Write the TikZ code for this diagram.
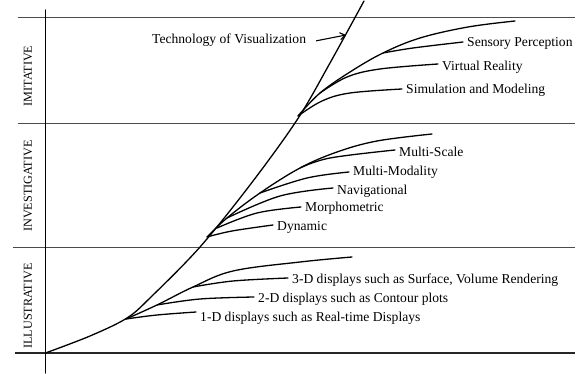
\documentclass[tikz,border=0pt]{standalone}
\usepackage{fontspec}
\setmainfont{Liberation Serif}
\usetikzlibrary{arrows.meta}
\begin{document}
\begin{tikzpicture}[x=1pt,y=-1pt,
  grid/.style={draw=black!70,line width=0.9pt},
  base/.style={draw=black!85,line width=1.4pt},
  curve/.style={draw=black,line width=1.3pt,line cap=round},
  lbl/.style={anchor=west,inner xsep=4pt,inner ysep=0pt,font=\fontsize{13.6}{15}\selectfont},
  cat/.style={rotate=90,inner sep=0pt,font=\fontsize{12.2}{14}\selectfont}]
\useasboundingbox (0,0) rectangle (582,374);
% frame lines
\draw[grid] (18,17) -- (575,17);
\draw[grid] (18,123) -- (575,123);
\draw[grid] (13,247) -- (575,247);
\draw[base] (15,353) -- (575,353);
\draw[curve,line width=1.1pt] (45.5,10) -- (45.5,373);
% category labels
\node[cat] (imit) at (28,76) {IMITATIVE};
\node[cat] (inv) at (28,186) {INVESTIGATIVE};
\node[cat] (ill) at (28,306) {ILLUSTRATIVE};
% main curve
\draw[curve] plot[smooth,tension=0.55] coordinates {(45.5,353) (90,336) (127,318) (152,296) (200,247) (250,185) (297,120) (330,63) (364,1)};
\coordinate (hit) at (346,35);
% branch points
\coordinate (i0) at (298,116);
\coordinate (i1) at (320,93);
\coordinate (i2) at (383,53);
\coordinate (v0) at (207,237);
\coordinate (v1) at (217,228);
\coordinate (v2) at (227,218);
\coordinate (v3) at (260,193);
\coordinate (v4) at (300,168);
\coordinate (l0) at (126,319);
\coordinate (l1) at (157,305);
\coordinate (l2) at (193,287);
% labels
\node[lbl] (tech) at (148,40) {Technology of Visualization};
\node[lbl] (sens) at (463,43) {Sensory Perception};
\node[lbl] (virt) at (438,67) {Virtual Reality};
\node[lbl] (simu) at (402,90) {Simulation and Modeling};
\node[lbl] (msca) at (395,152) {Multi-Scale};
\node[lbl] (mmod) at (349,172) {Multi-Modality};
\node[lbl] (navi) at (333,191) {Navigational};
\node[lbl] (morp) at (301,208) {Morphometric};
\node[lbl] (dyna) at (273,227) {Dynamic};
\node[lbl] (three) at (288,280) {3-D displays such as Surface, Volume Rendering};
\node[lbl] (two) at (254,299) {2-D displays such as Contour plots};
\node[lbl] (one) at (196,318) {1-D displays such as Real-time Displays};
% arrow
\draw[line width=1.1pt,shorten <=6pt,-{Straight Barb[length=5pt,width=7pt,line width=1.1pt]}] ([yshift=-2pt]tech.east) -- (hit);
% imitative
\draw[curve] plot[smooth,tension=0.6] coordinates {(i0) (i1) (350,72) (i2) (420,38) (468,27) (515,21)};
\draw[curve] plot[smooth,tension=0.6] coordinates {(i0) (322,101) (350,93) ([yshift=1pt]simu.west)};
\draw[curve] plot[smooth,tension=0.6] coordinates {(i1) (347,77) (380,69) ([yshift=3pt]virt.west)};
\draw[curve] plot[smooth,tension=0.6] coordinates {(i2) (413,48) ([yshift=1pt]sens.west)};
% investigative
\draw[curve] plot[smooth,tension=0.6] coordinates {(v0) (v2) (v3) (v4) (337,152) (377,141) (432,134)};
\draw[curve] plot[smooth,tension=0.6] coordinates {(v0) (232,231) ([yshift=2pt]dyna.west)};
\draw[curve] plot[smooth,tension=0.6] coordinates {(v1) (257,213) ([yshift=1pt]morp.west)};
\draw[curve] plot[smooth,tension=0.6] coordinates {(v2) (280,196) ([yshift=3pt]navi.west)};
\draw[curve] plot[smooth,tension=0.6] coordinates {(v3) (307,178) (mmod.west)};
\draw[curve] plot[smooth,tension=0.6] coordinates {(v4) (330,158) ([yshift=2pt]msca.west)};
% illustrative
\draw[curve] plot[smooth,tension=0.6] coordinates {(l0) (l1) (l2) (233,271) (300,262) (352,257)};
\draw[curve] plot[smooth,tension=0.6] coordinates {(l0) (157,315) ([yshift=6pt]one.west)};
\draw[curve] plot[smooth,tension=0.6] coordinates {(l1) (200,299) ([yshift=2pt]two.west)};
\draw[curve] plot[smooth,tension=0.6] coordinates {(l2) (233,281) ([yshift=2pt]three.west)};
\end{tikzpicture}
\end{document}
